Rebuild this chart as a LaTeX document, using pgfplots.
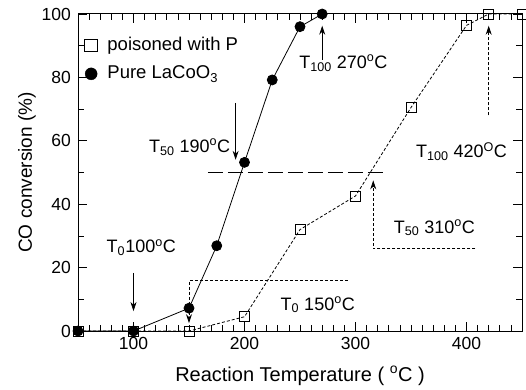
\documentclass[border=0pt]{standalone}
\usepackage{fontspec}
\setmainfont{Liberation Sans}
\usepackage{pgfplots}
\pgfplotsset{compat=1.18}
\usetikzlibrary{arrows.meta}

\newcommand{\degC}{\textsuperscript{o}C}

\begin{document}
\fontsize{18}{21}\selectfont
\begin{tikzpicture}
% page frame around the axis box (444 x 317)
\path[use as bounding box] (-78pt,-58pt) rectangle (448pt,331pt);
\begin{axis}[
  scale only axis, width=444pt, height=317pt,
  xmin=50, xmax=450, ymin=0, ymax=100,
  xtick={100,200,300,400}, ytick={0,20,...,100},
  minor xtick={50,60,...,450}, minor ytick={10,30,...,90},
  tick align=inside, major tick length=9pt, minor tick length=6pt,
  tick style={black, line width=0.8pt},
  axis line style={line width=1pt},
  /pgf/number format/assume math mode=true,
  ticklabel style={font=\fontsize{17.5}{20}\selectfont},
  yticklabel style={xshift=-1pt},
  xlabel={Reaction Temperature ( \textsuperscript{o}C )},
  ylabel={CO conversion (\%)},
  xlabel style={font=\fontsize{20}{23}\selectfont, at={(axis description cs:0.5,0)}, anchor=center, yshift=-45pt},
  ylabel style={font=\fontsize{19}{22}\selectfont, at={(axis description cs:0,0.5)}, anchor=center, yshift=51pt},
  legend style={at={(rel axis cs:0.015,0.933)}, anchor=north west, draw=none, fill=none,
                font=\fontsize{18.5}{21}\selectfont, row sep=8.5pt, inner sep=0pt},
  legend cell align=left,
  clip=false,
]
\addlegendimage{only marks, mark=square, mark size=6.3pt, line width=0.8pt}
\addlegendentry{\hspace*{8pt}poisoned with P}
\addlegendimage{only marks, mark=*, mark size=6pt}
\addlegendentry{\hspace*{8pt}Pure LaCoO\textsubscript{3}}

% P-poisoned catalyst
\addplot[forget plot, black, line width=0.8pt, dash pattern=on 3pt off 2pt,
  mark=square, mark size=5pt, mark options={solid, fill=none}]
  coordinates {(50,0) (100,0) (150,0) (200,4.5) (250,32) (300,42.6) (350,70.5) (400,96.4) (420,100) (450,100)};

% pure LaCoO3
\addplot[forget plot, black, line width=0.8pt, mark=*, mark size=5pt]
  coordinates {(50,0) (100,0) (150,7.2) (175,26.9) (200,53.2) (225,79.2) (250,96) (270,100)};

% T50 reference line
\draw[line width=0.9pt, dash pattern=on 15pt off 5pt] (axis cs:167,50) -- (axis cs:327,50);

% arrows for the pure catalyst
\draw[line width=0.8pt, -{Stealth[length=9pt,width=6pt]}] (axis cs:100,18.3) -- (axis cs:100,6.3);
\draw[line width=0.8pt, -{Stealth[length=9pt,width=6pt]}] (axis cs:192,72) -- (axis cs:192,54);
\draw[line width=0.8pt, -{Stealth[length=9pt,width=6pt]}] (axis cs:270,85.5) -- (axis cs:270,96.3);

% dashed arrows for the poisoned catalyst
\draw[line width=0.8pt, dash pattern=on 3pt off 2pt, -{Stealth[length=9pt,width=6pt]}]
  (axis cs:293,16) -- (axis cs:150,16) -- (axis cs:150,2.5);
\draw[line width=0.8pt, dash pattern=on 3pt off 2pt, -{Stealth[length=9pt,width=6pt]}]
  (axis cs:408,26) -- (axis cs:316,26) -- (axis cs:316,47.5);
\draw[line width=0.8pt, dash pattern=on 3pt off 2pt, -{Stealth[length=9pt,width=6pt]}]
  (axis cs:420,68) -- (axis cs:420,96.3);

% labels
\node at (axis cs:107,26.2) {T\textsubscript{0}100\degC};
\node at (axis cs:266,8.2) {T\textsubscript{0} 150\degC};
\node at (axis cs:150.5,58) {T\textsubscript{50} 190\degC};
\node at (axis cs:371,32.5) {T\textsubscript{50} 310\degC};
\node at (axis cs:289,84.5) {T\textsubscript{100} 270\degC};
\node at (axis cs:395.5,56.5) {T\textsubscript{100} 420\textsuperscript{O}C};
\end{axis}
\end{tikzpicture}
\end{document}
